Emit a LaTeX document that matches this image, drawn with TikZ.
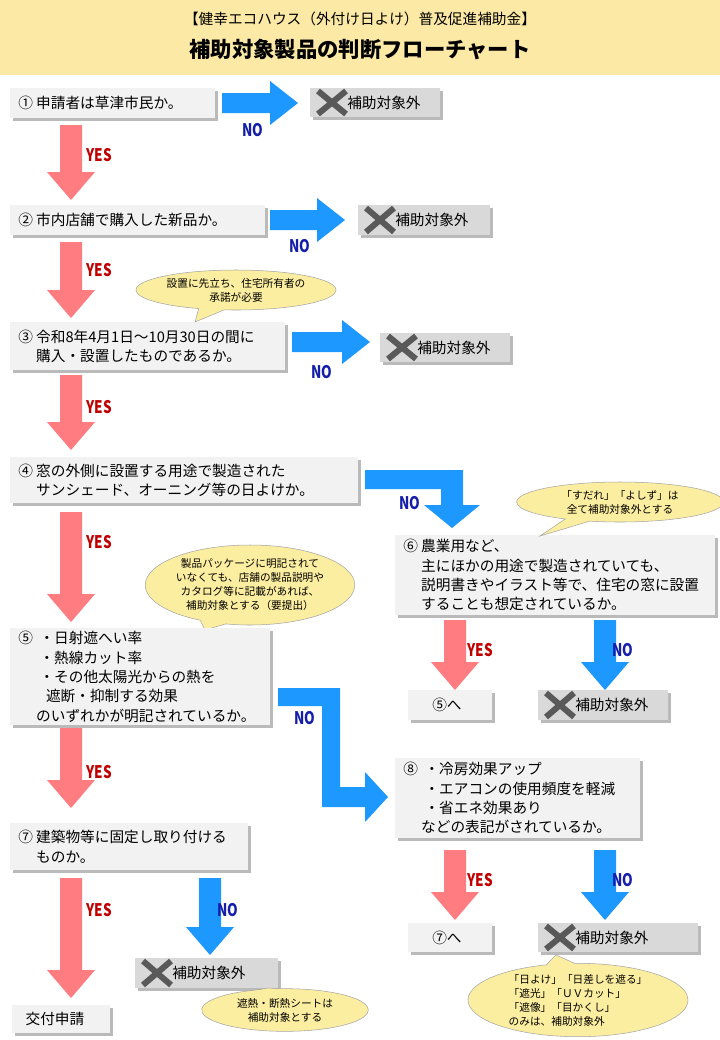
\documentclass[tikz,border=0pt]{standalone}
\usepackage{fontspec}
\setmainfont{Noto Sans CJK JP}
\usetikzlibrary{shadows,shapes.callouts,shapes.geometric}
\definecolor{hdr}{RGB}{252,233,166}
\definecolor{bxf}{RGB}{242,242,242}
\definecolor{xbf}{RGB}{217,217,217}
\definecolor{redA}{RGB}{255,124,128}
\definecolor{blueA}{RGB}{28,152,255}
\definecolor{yesC}{RGB}{192,0,0}
\definecolor{noC}{RGB}{20,30,170}
\definecolor{callF}{RGB}{252,238,160}
\newcommand{\varrowx}[4]{\fill[#4] (#1-11,#2)--(#1+11,#2)--(#1+11,#3-28)--(#1+24,#3-28)--(#1,#3)--(#1-24,#3-28)--(#1-11,#3-28)--cycle;}
\newcommand{\harrowx}[3]{\fill[blueA] (#1,#3-10)--(#2-28,#3-10)--(#2-28,#3-22)--(#2,#3)--(#2-28,#3+22)--(#2-28,#3+10)--(#1,#3+10)--cycle;}
\newcommand{\bx}[6]{\node[boxs,fill=bxf,minimum width={(#4-#2)*0.75pt},minimum height={(#5-#3)*0.75pt},anchor=north west] (#1) at (#2,#3) {};
  \node[txt,anchor=west] (#1t) at ([xshift=6pt]#1.west) {#6};}
\newcommand{\xbx}[5]{\node[boxs,fill=xbf,minimum width={(#4-#2)*0.75pt},minimum height={(#5-#3)*0.75pt},anchor=north west] (#1) at (#2,#3) {};
  \draw[line width=4.5pt,black!65] (#2+8,#3+3)--(#2+36,#5-3) (#2+8,#5-3)--(#2+36,#3+3);
  \node[txt,anchor=west] (#1t) at (#2+37,{(#3+#5)/2}) {補助対象外};}
\tikzset{
  boxs/.style={draw=none,rectangle,inner sep=0pt,drop shadow={shadow xshift=2pt,shadow yshift=-2pt,fill=black!45,opacity=.6}},
  txt/.style={font=\fontsize{11}{14.5}\selectfont,align=left,inner sep=0pt},
  yes/.style={text=yesC,font=\fontsize{13}{13}\selectfont\bfseries,xscale=.78},
  no/.style={text=noC,font=\fontsize{13}{13}\selectfont\bfseries,xscale=.78},
  call/.style={ellipse callout,draw=black!35,fill=callF,align=center,inner sep=0pt,font=\fontsize{8}{10.5}\selectfont}
}
\begin{document}
\begin{tikzpicture}[x=0.75pt,y=-0.75pt]
\useasboundingbox (0,0) rectangle (720,1040);
\fill[white] (0,0) rectangle (720,1040);
\fill[hdr] (0,0) rectangle (720,75);
\node[font=\fontsize{11}{12}\selectfont] (h1) at (360,19) {【健幸エコハウス（外付け日よけ）普及促進補助金】};
\node[font=\fontsize{16}{17}\selectfont\bfseries] (h2) at (360,50) {補助対象製品の判断フローチャート};
% row 1
\bx{b1}{10}{88}{215}{118}{①\ 申請者は草津市民か。}
\harrowx{222}{298}{103}
\node[no] (n1) at (253,130) {NO};
\xbx{x1}{310}{88}{440}{117}
\varrowx{71}{125}{200}{redA}
\node[yes] (y1) at (99,155) {YES};
% row 2
\bx{b2}{10}{205}{265}{235}{②\ 市内店舗で購入した新品か。}
\harrowx{270}{345}{220}
\node[no] (n2) at (300,246) {NO};
\xbx{x2}{358}{205}{490}{235}
\varrowx{71}{242}{318}{redA}
\node[yes] (y2) at (99,270) {YES};
% row 3
\bx{b3}{10}{322}{285}{370}{③\ 令和8年4月1日～10月30日の間に\\\phantom{③\ }購入・設置したものであるか。}
\node[call,minimum width=150pt,minimum height=30pt,callout absolute pointer={(195,322)}] (c1) at (236,290) {設置に先立ち、住宅所有者の\\承諾が必要};
\harrowx{292}{370}{342}
\node[no] (n3) at (322,372) {NO};
\xbx{x3}{380}{333}{510}{362}
\varrowx{71}{375}{450}{redA}
\node[yes] (y3) at (99,407) {YES};
% row 4
\bx{b4}{10}{457}{358}{503}{④\ 窓の外側に設置する用途で製造された\\\phantom{④\ }サンシェード、オーニング等の日よけか。}
\fill[blueA] (365,470)--(463,470)--(463,505)--(480,505)--(452,528)--(424,505)--(441,505)--(441,489)--(365,489)--cycle;
\node[no] (n4) at (410,503) {NO};
\varrowx{71}{512}{622}{redA}
\node[yes] (y4) at (99,542) {YES};
% box 6
\bx{b6}{395}{535}{715}{615}{⑥\ 農業用など、\\\phantom{⑥\ }主にほかの用途で製造されていても、\\\phantom{⑥\ }説明書きやイラスト等で、住宅の窓に設置\\\phantom{⑥\ }することも想定されているか。}
\node[call,minimum width=155pt,minimum height=30pt,callout absolute pointer={(540,536)}] (c2) at (620,502) {「すだれ」「よしず」は\\全て補助対象外とする};
\varrowx{455}{620}{690}{redA}
\node[yes] (y6) at (480,650) {YES};
\varrowx{605}{620}{690}{blueA}
\node[no] (n6) at (623,650) {NO};
\bx{g5}{408}{690}{492}{720}{\hspace{12pt}⑤へ}
\xbx{x6}{538}{690}{668}{720}
% box 5
\node[call,minimum width=134pt,minimum height=60pt,callout absolute pointer={(205,630)}] (c3) at (250,585) {製品パッケージに明記されて\\いなくても、店舗の製品説明や\\カタログ等に記載があれば、\\補助対象とする（要提出）};
\bx{b5}{10}{628}{270}{725}{⑤\ \ ・日射遮へい率\\\phantom{⑤\ \ }・熱線カット率\\\phantom{⑤\ \ }・その他太陽光からの熱を\\\phantom{⑤\ \ \ \ }遮断・抑制する効果\\\phantom{⑤\ }のいずれかが明記されているか。}
\fill[blueA] (278,688)--(340,688)--(340,787)--(365,787)--(365,772)--(388,797)--(365,822)--(365,807)--(322,807)--(322,706)--(278,706)--cycle;
\node[no] (n5) at (305,718) {NO};
\varrowx{71}{728}{808}{redA}
\node[yes] (y5) at (99,772) {YES};
% box 8
\bx{b8}{395}{758}{640}{838}{⑧\ \ ・冷房効果アップ\\\phantom{⑧\ \ }・エアコンの使用頻度を軽減\\\phantom{⑧\ \ }・省エネ効果あり\\\phantom{⑧\ }などの表記がされているか。}
\varrowx{455}{850}{920}{redA}
\node[yes] (y8) at (480,880) {YES};
\varrowx{605}{850}{920}{blueA}
\node[no] (n8) at (623,880) {NO};
\bx{g7}{408}{923}{492}{952}{\hspace{12pt}⑦へ}
\xbx{x8}{538}{923}{698}{952}
\node[call,minimum width=165pt,minimum height=54pt,callout absolute pointer={(556,955)},align=left] (c4) at (578,1000) {「日よけ」「日差しを遮る」\\「遮光」「ＵＶカット」\\「遮像」「目かくし」\\のみは、補助対象外};
% box 7
\bx{b7}{10}{823}{248}{870}{⑦\ 建築物等に固定し取り付ける\\\phantom{⑦\ }ものか。}
\varrowx{71}{878}{998}{redA}
\node[yes] (y7) at (99,910) {YES};
\varrowx{210}{878}{955}{blueA}
\node[no] (n7) at (228,910) {NO};
\xbx{x7}{135}{958}{278}{988}
\bx{g0}{12}{1005}{110}{1033}{\hspace{4pt}交付申請}
\node[call,minimum width=125pt,minimum height=32pt,callout absolute pointer={(268,988)}] (c5) at (285,1010) {遮熱・断熱シートは\\補助対象とする};
\end{tikzpicture}
\end{document}
